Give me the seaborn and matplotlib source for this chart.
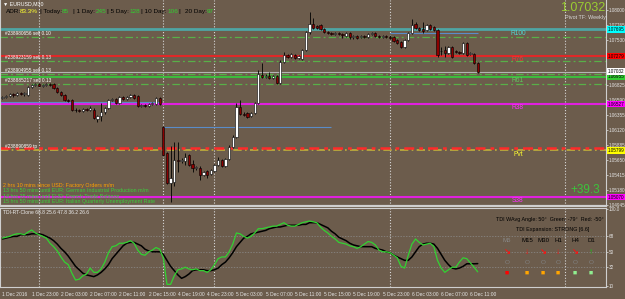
import numpy as np
import pandas as pd
import matplotlib
matplotlib.use("Agg")
import matplotlib.pyplot as plt
import matplotlib.transforms as mtransforms
import seaborn as sns

# ------------------------
# 1. Data (EURUSD M30, 1 Dec 19:00 -> 6 Dec 12:00)
# ------------------------
opens = [1.06621, 1.06637, 1.06653, 1.06684, 1.06668, 1.06700, 1.06684, 1.06668, 1.06794, 1.06825,
         1.06841, 1.06809, 1.06825, 1.06841, 1.06841, 1.06778, 1.06715, 1.06668, 1.06590, 1.06590,
         1.06433, 1.06433, 1.06418, 1.06449, 1.06433, 1.06433, 1.06293, 1.06339, 1.06402, 1.06465,
         1.06590, 1.06606, 1.06543, 1.06637, 1.06606, 1.06637, 1.06668, 1.06653, 1.06496, 1.06512,
         1.06496, 1.06527, 1.06527, 1.06621, 1.06167, 1.05759, 1.05289, 1.05305, 1.05650, 1.05634,
         1.05634, 1.05728, 1.05587, 1.05524, 1.05524, 1.05415, 1.05477, 1.05430, 1.05477, 1.05571,
         1.05650, 1.05556, 1.05665, 1.05854, 1.06010, 1.06480, 1.06371, 1.06386, 1.06339, 1.06386,
         1.06543, 1.06982, 1.06950, 1.06966, 1.06935, 1.06966, 1.06856, 1.07185, 1.07295, 1.07264,
         1.07295, 1.07248, 1.07232, 1.07374, 1.07656, 1.07781, 1.07750, 1.07765, 1.07703, 1.07656,
         1.07640, 1.07624, 1.07640, 1.07624, 1.07593, 1.07640, 1.07577, 1.07593, 1.07577, 1.07593,
         1.07577, 1.07624, 1.07640, 1.07593, 1.07577, 1.07593, 1.07577, 1.07577, 1.07530, 1.07499,
         1.07421, 1.07530, 1.07640, 1.07781, 1.07718, 1.07703, 1.07687, 1.07765, 1.07734, 1.07687,
         1.07358, 1.07374, 1.07326, 1.07421, 1.07358, 1.07342, 1.07326, 1.07483, 1.07311, 1.07311,
         1.07170]
highs = [1.06653, 1.06668, 1.06700, 1.06700, 1.06715, 1.06715, 1.06715, 1.06809, 1.06841, 1.06856,
         1.06856, 1.06841, 1.06856, 1.06856, 1.06856, 1.06794, 1.06731, 1.06684, 1.06606, 1.06606,
         1.06465, 1.06449, 1.06465, 1.06465, 1.06496, 1.06465, 1.06355, 1.06543, 1.06480, 1.06606,
         1.06621, 1.06621, 1.06653, 1.06653, 1.06653, 1.06684, 1.06684, 1.06668, 1.06527, 1.06527,
         1.06543, 1.06559, 1.06637, 1.06637, 1.06183, 1.05775, 1.05869, 1.05932, 1.05932, 1.05681,
         1.05759, 1.05744, 1.05650, 1.05556, 1.05556, 1.05477, 1.05493, 1.05509, 1.05587, 1.05697,
         1.05665, 1.05681, 1.05885, 1.06042, 1.06543, 1.06590, 1.06402, 1.06402, 1.06402, 1.06559,
         1.07060, 1.07170, 1.06997, 1.07029, 1.06982, 1.06982, 1.07217, 1.07342, 1.07311, 1.07326,
         1.07311, 1.07295, 1.07389, 1.07671, 1.07969, 1.07875, 1.07765, 1.07781, 1.07718, 1.07671,
         1.07656, 1.07656, 1.07656, 1.07640, 1.07656, 1.07656, 1.07609, 1.07609, 1.07609, 1.07609,
         1.07640, 1.07656, 1.07656, 1.07609, 1.07609, 1.07609, 1.07609, 1.07593, 1.07546, 1.07515,
         1.07546, 1.07656, 1.07859, 1.07812, 1.07734, 1.07812, 1.07781, 1.07781, 1.07750, 1.07703,
         1.07421, 1.07436, 1.07436, 1.07436, 1.07374, 1.07358, 1.07499, 1.07499, 1.07342, 1.07326,
         1.07185]
lows = [1.06606, 1.06621, 1.06637, 1.06637, 1.06653, 1.06668, 1.06653, 1.06653, 1.06778, 1.06809,
        1.06794, 1.06794, 1.06809, 1.06809, 1.06762, 1.06700, 1.06653, 1.06574, 1.06559, 1.06418,
        1.06402, 1.06402, 1.06402, 1.06418, 1.06418, 1.06293, 1.06245, 1.06261, 1.06371, 1.06449,
        1.06574, 1.06527, 1.06527, 1.06590, 1.06590, 1.06621, 1.06606, 1.06480, 1.06480, 1.06480,
        1.06480, 1.06512, 1.06512, 1.06512, 1.05712, 1.05274, 1.04992, 1.05242, 1.05462, 1.05603,
        1.05571, 1.05556, 1.05462, 1.05493, 1.05336, 1.05399, 1.05368, 1.05415, 1.05462, 1.05556,
        1.05540, 1.05540, 1.05650, 1.05838, 1.05995, 1.06355, 1.06339, 1.06308, 1.06324, 1.06371,
        1.06527, 1.06935, 1.06935, 1.06919, 1.06919, 1.06841, 1.06841, 1.07170, 1.07248, 1.07248,
        1.07232, 1.07232, 1.07217, 1.07358, 1.07624, 1.07703, 1.07703, 1.07687, 1.07640, 1.07624,
        1.07609, 1.07609, 1.07609, 1.07562, 1.07577, 1.07546, 1.07546, 1.07546, 1.07562, 1.07562,
        1.07562, 1.07609, 1.07577, 1.07562, 1.07562, 1.07562, 1.07546, 1.07499, 1.07468, 1.07405,
        1.07405, 1.07515, 1.07624, 1.07703, 1.07671, 1.07640, 1.07671, 1.07687, 1.07671, 1.07264,
        1.07295, 1.07264, 1.07311, 1.07248, 1.07326, 1.07311, 1.07311, 1.07279, 1.07295, 1.07154,
        1.07013]
closes = [1.06637, 1.06653, 1.06684, 1.06668, 1.06700, 1.06684, 1.06700, 1.06794, 1.06825, 1.06841,
          1.06809, 1.06825, 1.06841, 1.06825, 1.06778, 1.06715, 1.06668, 1.06590, 1.06574, 1.06433,
          1.06433, 1.06418, 1.06449, 1.06433, 1.06465, 1.06308, 1.06339, 1.06402, 1.06465, 1.06590,
          1.06606, 1.06543, 1.06637, 1.06606, 1.06637, 1.06668, 1.06621, 1.06496, 1.06512, 1.06496,
          1.06527, 1.06543, 1.06621, 1.06527, 1.05728, 1.05289, 1.05368, 1.05650, 1.05634, 1.05650,
          1.05697, 1.05571, 1.05524, 1.05540, 1.05415, 1.05462, 1.05415, 1.05493, 1.05571, 1.05650,
          1.05556, 1.05665, 1.05854, 1.06010, 1.06480, 1.06371, 1.06355, 1.06324, 1.06386, 1.06543,
          1.06997, 1.06950, 1.06966, 1.06935, 1.06966, 1.06856, 1.07185, 1.07295, 1.07264, 1.07311,
          1.07248, 1.07279, 1.07374, 1.07656, 1.07781, 1.07718, 1.07718, 1.07703, 1.07656, 1.07640,
          1.07624, 1.07640, 1.07624, 1.07609, 1.07640, 1.07577, 1.07593, 1.07562, 1.07593, 1.07577,
          1.07624, 1.07640, 1.07593, 1.07577, 1.07593, 1.07577, 1.07562, 1.07515, 1.07483, 1.07421,
          1.07530, 1.07640, 1.07765, 1.07718, 1.07687, 1.07671, 1.07765, 1.07703, 1.07687, 1.07295,
          1.07358, 1.07326, 1.07421, 1.07264, 1.07342, 1.07326, 1.07483, 1.07295, 1.07326, 1.07170,
          1.07032]

# TDI indicator: green = RSI price line, black = signal line
tdi_green = [66, 67, 68, 70, 71, 71, 70, 73, 75.5, 72, 70, 68, 66, 60, 56, 51, 44, 38, 35, 25,
             17, 18, 22, 24, 31, 26, 26, 30, 38, 49, 56, 57, 60, 60, 61, 63, 60, 52, 47, 46,
             50, 52, 55, 53, 43, 12, 12, 22, 29, 30, 32, 30, 29, 30, 28, 28, 26, 29, 35, 42,
             44, 44, 50, 59, 72, 71, 68, 66, 68, 72, 77, 77, 78, 79, 80, 80, 82, 84, 81, 80,
             80, 82, 84, 85, 86, 85, 84, 79, 75, 72, 68, 65, 61, 60, 59, 57, 56, 54, 56, 59,
             62, 61, 58, 52, 50, 50, 49, 46, 43, 33, 31, 46, 59, 65, 61, 58, 59, 60, 56, 40,
             31, 26, 29, 32, 32, 38, 43, 42, 37, 32, 26.6]
tdi_black = [65, 66, 67, 68, 68, 70, 70, 70, 71, 71, 71, 70, 68, 66, 63, 59, 54, 50, 45, 39,
             33, 29, 25, 23, 22, 21, 23, 26, 30, 35, 42, 47, 52, 57, 60, 61, 61, 59, 57, 53,
             51, 50, 50, 50, 47, 40, 33, 28, 23, 19, 21, 24, 28, 29, 29, 29, 28, 28, 29, 31,
             35, 38, 43, 49, 56, 61, 66, 68, 71, 72, 73, 74, 75, 77, 78, 79, 79, 80, 81, 81,
             81, 81, 82, 82, 84, 84, 84, 82, 80, 78, 74, 71, 67, 65, 63, 60, 58, 57, 56, 56,
             56, 56, 54, 53, 52, 50, 49, 46, 44, 42, 40, 40, 44, 50, 56, 59, 60, 60, 59, 54,
             47, 40, 35, 31, 30, 31, 33, 36, 36, 36, 36.2]

time_label_bars = [0, 8, 16, 24, 32, 40, 48, 56, 64, 72, 80, 88, 96, 104, 112, 120, 128]
time_labels = ["1 Dec 2016", "1 Dec 23:00", "2 Dec 03:00", "2 Dec 07:00", "2 Dec 11:00",
               "2 Dec 15:00", "4 Dec 19:00", "4 Dec 23:00", "5 Dec 03:00", "5 Dec 07:00",
               "5 Dec 11:00", "5 Dec 15:00", "5 Dec 19:00", "5 Dec 23:00", "6 Dec 03:00",
               "6 Dec 07:00", "6 Dec 11:00"]
day_sep_bars = [10, 44, 58, 106, 154]

# price scale ticks (1.07295 and 1.07060 sit under the coloured price boxes)
price_ticks = [1.08000, 1.07765, 1.07530, 1.06825, 1.06590, 1.06355,
               1.06120, 1.05885, 1.05650, 1.05415, 1.05180, 1.04945]
tdi_ticks = [100, 68, 50, 32, 10]
tdi_tick_labels = ["100.0", "68", "50", "32", "10"]
tdi_levels = [68, 50, 32]

# weekly fibonacci pivots
pivot_names = ["R100", "R76", "R61", "R38", "Pvt", "S38"]
pivot_prices = [1.07695, 1.07279, 1.06955, 1.06527, 1.05799, 1.05070]
pivot_line_colors = ["#4ea6a4", "#e02828", "#3dbb3d", "#e020e0", "#c2b03a", "#e020e0"]
pivot_text_colors = ["#52d6d2", "#ff3030", "#5fc85f", "#ff30ff", "#ffff30", "#ff30ff"]
pivot_box_colors = ["#00ffff", "#ff0000", "#32cd32", "#ff00ff", "#ffff00", "#ff00ff"]

# open orders
order_labels = ["#238980656 sell 0.10", "#238923159 sell 0.13", "#238904955 sell 0.13",
                "#238885217 sell 0.13"]
order_prices = [1.07577, 1.07201, 1.06997, 1.06841]
tp_label = "#238890859 tp"
tp_price = 1.05838
bid_price = 1.07032

# day open lines (start bar, end bar, price)
open_line_start = [-1, 44, 106]
open_line_end = [43, 90, 130]
open_line_price = [1.06563, 1.06167, 1.07635]

adr_parts = ["ADR:", "83.3%", "| Today:", "85", "| 1 Day:", "245", "| 5 Day:", "128",
             "| 10 Day:", "106", "|", "20 Day:", "97"]
adr_x = [6, 20, 40, 62, 73, 96, 107, 129, 141, 167, 178, 185, 207]

news_lines = ["2 hrs 10 mins since USD: Factory Orders m/m",
              "13 hrs 50 mins until EUR: German Industrial Production m/m",
              "14 hrs 35 mins until EUR: French Trade Balance",
              "15 hrs 50 mins until EUR: Italian Quarterly Unemployment Rate"]
news_colors = ["#ffa000", "#3ccc3c", "#3ccc3c", "#3ccc3c"]

tf_names = ["M5", "M15", "M30", "H1", "H4", "D1"]
tf_arrows = ["\u2198", "\u2193", "\u2198", "\u2193", "\u2198", "\u2191"]
tf_arrow_colors = ["#ff1010", "#ff1010", "#ff1010", "#ff1010", "#ff1010", "#10d010"]
tf_square_colors = ["#ff0000", "#ffa500", "#ffa500", "#ffa500", "#90ee90", "#90ee90"]
tf_x = [507, 527, 543, 558, 575, 591]

df = pd.DataFrame({"bar": np.arange(len(closes)), "open": opens, "high": highs,
                   "low": lows, "close": closes})
tdi = pd.DataFrame({"bar": np.arange(len(tdi_green)), "green": tdi_green, "black": tdi_black})

# ------------------------
# 2. Style
# ------------------------
BG = "#6c5c4c"
FG = "#e6e6e6"
BORDER = "#cfcfcf"
sns.set_style("dark", rc={"axes.facecolor": BG, "figure.facecolor": BG,
                          "axes.edgecolor": BORDER, "grid.color": BG})
plt.rcParams["font.family"] = ["Liberation Sans", "DejaVu Sans"]

W, H = 625, 299
fig = plt.figure(figsize=(W / 100, H / 100), dpi=100)


def fx(px):
    return px / W


def fy(py):
    return 1 - py / H


# x mapping: bar i sits at pixel 2.44 + 3.656 * i
x_lo = (0 - 2.44) / 3.656
x_hi = (606 - 2.44) / 3.656

ax = fig.add_axes([0, fy(206), fx(606), 206 / H])
ax2 = fig.add_axes([0, fy(287), fx(606), 79 / H])

# price axis: pixel y -> 1.08157 - 0.0001567 * y
ax.set_ylim(1.08157 - 0.0001567 * 206, 1.08157)
ax.set_xlim(x_lo, x_hi)
ax2.set_xlim(x_lo, x_hi)
ax2.set_ylim(100 - 78 * 1.1682, 100 + 1.1682)

# ------------------------
# 3. Main panel
# ------------------------
for b in day_sep_bars:
    for a in (ax, ax2):
        a.axvline(b, color="#d8d8d8", ls=(0, (1, 1.6)), lw=0.8, zorder=1)

# pivot lines
for name, p, lc in zip(pivot_names, pivot_prices, pivot_line_colors):
    if name == "Pvt":
        ax.axhline(p, color=lc, lw=1.2, ls=(0, (5, 2, 1, 2)), zorder=2)
    else:
        ax.axhline(p, color=lc, lw=1.5 if name != "R100" else 2.0, zorder=2)

for p in order_prices:
    ax.axhline(p, color="#58b048", lw=0.9, ls=(0, (6, 2.5, 1.5, 2.5)), zorder=2)
ax.axhline(bid_price, color="#b4b4b4", lw=0.8, zorder=2)
ax.axhline(tp_price, color="#ff2a2a", lw=1.8, ls=(0, (4, 2, 1.5, 2)), zorder=2)

for s, e, p in zip(open_line_start, open_line_end, open_line_price):
    ax.hlines(p, s, e, color="#5a8cc8", lw=0.8, zorder=2)

# candles
up = df["close"] >= df["open"]
body_bottom = df[["open", "close"]].min(axis=1)
body_height = (df["close"] - df["open"]).abs()
ax.vlines(df["bar"], df["low"], df["high"], color="black", lw=0.6, zorder=3)
ax.bar(df["bar"][up], body_height[up], bottom=body_bottom[up], width=0.62,
       color="white", edgecolor="black", linewidth=0.4, zorder=4)
ax.bar(df["bar"][~up], body_height[~up], bottom=body_bottom[~up], width=0.62,
       color="#8b0000", edgecolor="black", linewidth=0.4, zorder=4)

# right price scale
ax.yaxis.tick_right()
ax.set_yticks(price_ticks)
ax.set_yticklabels([f"{p:.5f}" for p in price_ticks], fontsize=3.3, color=FG)
ax.tick_params(axis="y", length=1.5, width=0.5, color=FG, pad=0.6)
ax.set_xticks([])
ax.spines["top"].set_visible(False)
ax.spines["bottom"].set_linewidth(1.6)
ax.spines["right"].set_linewidth(0.8)
ax.spines["left"].set_linewidth(0.8)

trans = mtransforms.blended_transform_factory(ax.transAxes, ax.transData)
box_prices = pivot_prices + [bid_price]
box_colors = pivot_box_colors + ["#ffffff"]
for p, c in zip(box_prices, box_colors):
    ax.text(1.0 + 2.0 / 606, p, f"{p:.5f}", transform=trans, fontsize=3.3, color="black",
            va="center", ha="left", clip_on=False, zorder=10,
            bbox=dict(boxstyle="square,pad=0.2", fc=c, ec="none"))

# pivot names
for name, p, tc in zip(pivot_names, pivot_prices, pivot_text_colors):
    ax.text(518 / 606, p - 0.0006, name, transform=trans, fontsize=4.8, color=tc,
            ha="center", va="center", zorder=6)

# order labels
for lab, p in zip(order_labels, order_prices):
    ax.text(5 / 606, p + 0.0005, lab, transform=trans, fontsize=3.4, color="white",
            ha="left", va="center", zorder=6)
ax.text(5 / 606, tp_price + 0.0003, tp_label, transform=trans, fontsize=3.4, color="white",
        ha="left", va="center", zorder=6)

# header texts
fig.text(fx(3), fy(3.5), "\u25bc EURUSD,M30", fontsize=3.8, color="white", va="center")
colors_adr = ["black", "#ffff30", "black", "#30d030", "black", "#30d030", "black", "#30d030",
              "black", "#30d030", "black", "black", "#30d030"]
for t, x, c in zip(adr_parts, adr_x, colors_adr):
    fig.text(fx(x), fy(11.5), t, fontsize=4.6, color=c, va="center", ha="left")

fig.text(fx(605), fy(8), "1.07032", fontsize=9, color="#9acd32", ha="right", va="center")
fig.text(fx(585), fy(18), "Pivot TF: Weekly", fontsize=3.9, color="#d8d8d8",
         ha="center", va="center")
fig.text(fx(585), fy(190), "+39.3", fontsize=8.5, color="#3cc43c", ha="center", va="center")

for i, (t, c) in enumerate(zip(news_lines, news_colors)):
    fig.text(fx(3), fy(185 + i * 5.6), t, fontsize=3.9, color=c, ha="left", va="center")

# ------------------------
# 4. TDI panel
# ------------------------
for lvl in tdi_levels:
    ax2.axhline(lvl, color="#8c8c8c", ls=(0, (2, 2)), lw=0.5, zorder=1)
sns.lineplot(data=tdi, x="bar", y="black", color="black", lw=1.1, ax=ax2, zorder=3)
sns.lineplot(data=tdi, x="bar", y="green", color="#32d232", lw=0.9, ax=ax2, zorder=4)
ax2.set_xlabel("")
ax2.set_ylabel("")
ax2.yaxis.tick_right()
ax2.set_yticks(tdi_ticks)
ax2.set_yticklabels(tdi_tick_labels, fontsize=3.3, color=FG)
ax2.tick_params(axis="y", length=1.5, width=0.5, color=FG, pad=0.6)
ax2.set_xticks(time_label_bars)
ax2.set_xticklabels(time_labels, fontsize=3.5, color=FG, ha="left")
ax2.tick_params(axis="x", length=2, width=0.5, color=FG, pad=1.5)
for sp in ax2.spines.values():
    sp.set_linewidth(0.8)

fig.text(fx(3), fy(212), "TDI-RT-Clone 68.8 25.6 47.8 36.2 26.6", fontsize=3.6,
         color="#ececec", ha="left", va="center")
fig.text(fx(550), fy(219), "TDI WAvg Angle: 50\u00b0  Green: -79\u00b0  Red: -50\u00b0",
         fontsize=3.9, color="black", ha="center", va="center")
fig.text(fx(553), fy(229), "TDI Expansion: STRONG [6.6]", fontsize=3.9, color="black",
         ha="center", va="center")
for name, arr, ac, sc, x in zip(tf_names, tf_arrows, tf_arrow_colors, tf_square_colors, tf_x):
    fig.text(fx(x), fy(240), name, fontsize=4.4, color="#8a8a8a" if name == "M5" else "black",
             ha="center", va="center")
    fig.text(fx(x), fy(253), arr, fontsize=6, color=ac, ha="center", va="center",
             fontweight="bold")
    fig.text(fx(x), fy(263), "O", fontsize=4.6, color="#808080", ha="center", va="center")
    fig.text(fx(x), fy(273), "\u25a0", fontsize=5, color=sc, ha="center", va="center")

fig.savefig("out.png", dpi=100, facecolor=BG)
